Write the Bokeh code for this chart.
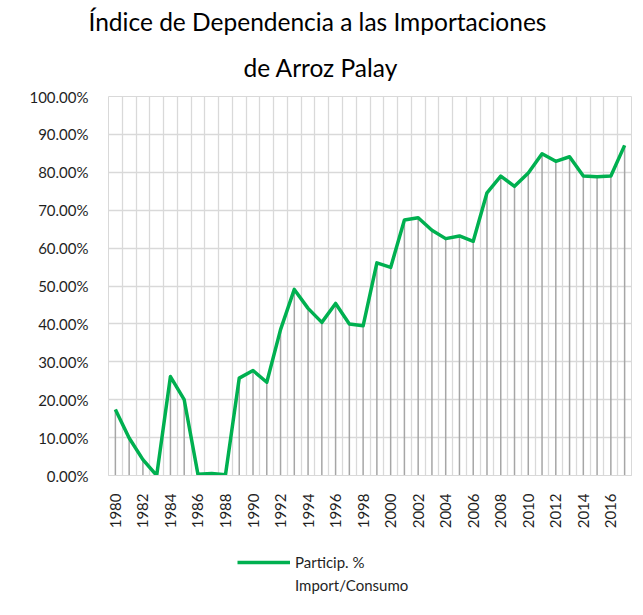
import math
from bokeh.plotting import figure
from bokeh.layouts import column
from bokeh.models import (FixedTicker, NumeralTickFormatter, Range1d, Title,
                          Legend, LegendItem)
from bokeh.embed import file_html
from bokeh.resources import INLINE

# ---- data ----
years = list(range(1980, 2018))
particip = [0.174, 0.099, 0.042, 0.000, 0.261, 0.200, 0.003, 0.005, 0.002, 0.257,
            0.277, 0.246, 0.385, 0.491, 0.441, 0.404, 0.454, 0.400, 0.395, 0.561,
            0.549, 0.674, 0.680, 0.647, 0.625, 0.632, 0.618, 0.746, 0.790, 0.763,
            0.798, 0.849, 0.829, 0.841, 0.790, 0.788, 0.790, 0.871]
x_tick_years = list(range(1980, 2017, 2))
y_ticks = [i / 10 for i in range(11)]
title_lines = ["Índice de Dependencia a las Importaciones", "de Arroz Palay"]
series_label_lines = ["Particip. %", "Import/Consumo"]

FONT = "Lato"
TEXT = "#1f1f1f"
GREEN = "#00b050"

p = figure(width=643, height=531, output_backend="svg", toolbar_location=None,
           x_range=Range1d(years[0] - 0.5, years[-1] + 0.5),
           y_range=Range1d(0, 1.0),
           min_border_left=108, min_border_right=12, min_border_top=96,
           min_border_bottom=55)
p.background_fill_color = "white"
p.border_fill_color = "white"
p.outline_line_color = "#d9d9d9"

# grid
p.xgrid.ticker = FixedTicker(ticks=[y - 0.5 for y in years] + [years[-1] + 0.5])
p.xgrid.grid_line_color = "#d9d9d9"
p.xgrid.grid_line_width = 1.3
p.ygrid.ticker = FixedTicker(ticks=y_ticks)
p.ygrid.grid_line_color = "#d9d9d9"
p.ygrid.grid_line_width = 1.3

# drop lines
p.segment(x0=years, y0=[0] * len(years), x1=years, y1=particip,
          line_color="#a6a6a6", line_width=1.5)
# main line
p.line(years, particip, line_color=GREEN, line_width=3.5, line_join="round")

# axes
p.xaxis.ticker = FixedTicker(ticks=x_tick_years)
p.xaxis.major_label_orientation = math.pi / 2
p.xaxis.major_label_standoff = 12
p.xaxis.axis_line_color = "#d9d9d9"
p.xaxis.major_tick_line_color = None
p.xaxis.minor_tick_line_color = None
p.xaxis.major_label_text_font = FONT
p.xaxis.major_label_text_font_size = "15px"
p.xaxis.major_label_text_color = TEXT

p.yaxis.ticker = FixedTicker(ticks=y_ticks)
p.yaxis.formatter = NumeralTickFormatter(format="0.00%")
p.yaxis.axis_line_color = None
p.yaxis.major_tick_line_color = None
p.yaxis.minor_tick_line_color = None
p.yaxis.major_label_standoff = 14
p.yaxis.major_label_text_font = FONT
p.yaxis.major_label_text_font_size = "15px"
p.yaxis.major_label_text_color = TEXT

# title (second line added first so it sits nearest the plot)
title_offsets = [-20, 135]
title_standoffs = [0, 30]
for t, off, so in reversed(list(zip(title_lines, title_offsets, title_standoffs))):
    p.add_layout(Title(text=t, align="left", offset=off,
                       text_font=FONT, text_font_size="24.5px",
                       text_font_style="normal", text_color="#000000",
                       standoff=so), "above")

# ---- legend strip below the chart (frame aligned with the chart's frame) ----
pl = figure(width=643, height=84, output_backend="svg", toolbar_location=None,
            x_range=Range1d(0, 1), y_range=Range1d(0, 1),
            x_axis_type=None, y_axis_type=None,
            min_border_left=0, min_border_right=0, min_border_top=0,
            min_border_bottom=0)
pl.outline_line_color = None
pl.grid.visible = False
pl.background_fill_color = "white"
pl.border_fill_color = "white"
# series renderer for the legend swatch (data lies outside this strip's ranges)
swatch = pl.line(years, particip, line_color=GREEN, line_width=3.5)
blank = pl.line(years, particip, line_alpha=0)

legend = Legend(items=[LegendItem(label=series_label_lines[0], renderers=[swatch]),
                       LegendItem(label=series_label_lines[1], renderers=[blank])],
                location=(129, 20), padding=0, margin=0, spacing=3,
                glyph_width=53, glyph_height=20, label_standoff=5,
                label_text_font=FONT, label_text_font_size="15px",
                label_text_color=TEXT,
                border_line_color=None, background_fill_alpha=0)
pl.add_layout(legend)

open("out.html", "w").write(file_html(column(p, pl), INLINE))
